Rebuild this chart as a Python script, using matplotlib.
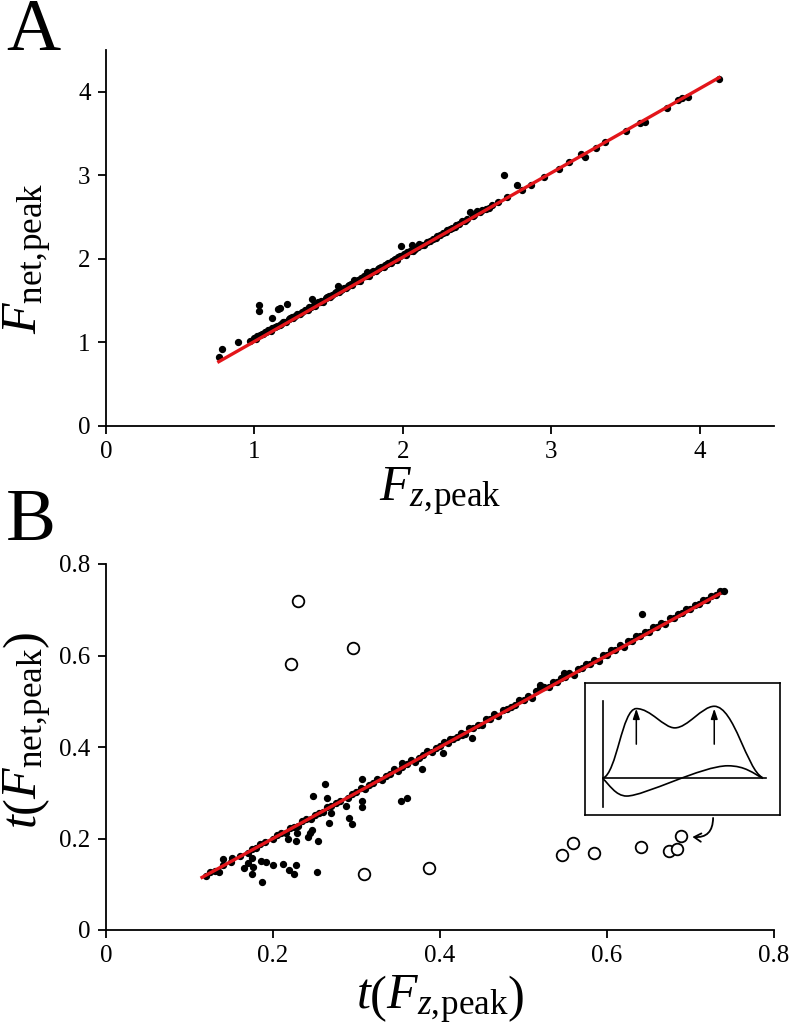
import numpy as np
import matplotlib
matplotlib.use('Agg')
import matplotlib.pyplot as plt
from matplotlib.path import Path
from matplotlib.patches import PathPatch

plt.rcParams['font.family'] = ['Liberation Serif', 'DejaVu Serif']
plt.rcParams['mathtext.fontset'] = 'custom'
plt.rcParams['mathtext.rm'] = 'Liberation Serif'
plt.rcParams['mathtext.it'] = 'Liberation Serif:italic'

# panel A: peak forces
fz_peak = [0.76, 0.78, 0.89, 0.97, 1.00, 1.02, 1.03, 1.03, 1.05, 1.07,
           1.08, 1.10, 1.12, 1.12, 1.15, 1.16, 1.17, 1.18, 1.20, 1.22,
           1.23, 1.25, 1.27, 1.30, 1.32, 1.35, 1.37, 1.39, 1.40, 1.43,
           1.45, 1.48, 1.50, 1.52, 1.55, 1.56, 1.58, 1.60, 1.63, 1.65,
           1.67, 1.70, 1.72, 1.75, 1.76, 1.78, 1.80, 1.83, 1.85, 1.88,
           1.90, 1.93, 1.95, 1.97, 1.99, 2.01, 2.03, 2.06, 2.08, 2.11,
           2.13, 2.16, 2.20, 2.23, 2.27, 2.30, 2.33, 2.36, 2.40, 2.43,
           2.45, 2.48, 2.50, 2.53, 2.56, 2.60, 2.64, 2.68, 2.70, 2.77,
           2.80, 2.86, 2.95, 3.05, 3.12, 3.20, 3.23, 3.30, 3.36, 3.50,
           3.60, 3.63, 3.78, 3.85, 3.88, 3.92, 4.13]
fnet_peak = [0.83, 0.92, 1.01, 1.02, 1.05, 1.08, 1.45, 1.38, 1.10, 1.12,
             1.13, 1.15, 1.29, 1.17, 1.20, 1.40, 1.41, 1.22, 1.25, 1.46,
             1.28, 1.30, 1.32, 1.34, 1.37, 1.39, 1.42, 1.52, 1.45, 1.48,
             1.50, 1.53, 1.55, 1.57, 1.60, 1.67, 1.63, 1.65, 1.68, 1.70,
             1.75, 1.75, 1.77, 1.80, 1.84, 1.83, 1.85, 1.88, 1.90, 1.93,
             1.95, 1.98, 2.00, 2.02, 2.15, 2.06, 2.08, 2.17, 2.12, 2.18,
             2.17, 2.20, 2.24, 2.27, 2.31, 2.34, 2.37, 2.40, 2.45, 2.48,
             2.56, 2.53, 2.57, 2.58, 2.60, 2.64, 2.68, 3.00, 2.74, 2.89,
             2.83, 2.88, 2.98, 3.08, 3.16, 3.25, 3.22, 3.33, 3.40, 3.53,
             3.63, 3.64, 3.81, 3.90, 3.92, 3.94, 4.15]
# second layer of the dense band just above the fit line
fz_band = [1.01, 1.04, 1.06, 1.09, 1.11, 1.14, 1.17, 1.19, 1.21, 1.24,
           1.26, 1.29, 1.31, 1.34, 1.36, 1.38, 1.41, 1.44, 1.46, 1.49,
           1.51, 1.54, 1.57, 1.59, 1.62, 1.64, 1.66, 1.69, 1.71, 1.74,
           1.77, 1.79, 1.82, 1.84, 1.87, 1.89, 1.92, 1.94, 1.96, 1.98,
           2.02, 2.05, 2.07, 2.10, 2.14, 2.18, 2.22, 2.25, 2.29, 2.32,
           2.35, 2.38, 2.42, 2.47, 2.52, 2.58]
fnet_band = [1.04, 1.09, 1.10, 1.15, 1.14, 1.19, 1.21, 1.24, 1.24, 1.29,
             1.29, 1.34, 1.34, 1.39, 1.39, 1.43, 1.44, 1.49, 1.49, 1.54,
             1.54, 1.59, 1.60, 1.64, 1.65, 1.69, 1.69, 1.74, 1.74, 1.79,
             1.80, 1.84, 1.85, 1.89, 1.90, 1.94, 1.95, 1.99, 1.99, 2.03,
             2.05, 2.10, 2.10, 2.14, 2.17, 2.22, 2.25, 2.29, 2.32, 2.36,
             2.38, 2.42, 2.45, 2.51, 2.56, 2.61]
fit_a_x = [0.76, 4.13]
fit_a_y = [0.77, 4.17]

# panel B: timing of peaks, points close to the identity line
tz_band = [0.12, 0.125, 0.13, 0.14, 0.15, 0.16, 0.17, 0.175, 0.18, 0.185,
           0.19, 0.2, 0.205, 0.21, 0.215, 0.22, 0.225, 0.23, 0.235, 0.24,
           0.245, 0.25, 0.255, 0.26, 0.265, 0.27, 0.275, 0.28, 0.29, 0.295,
           0.3, 0.31, 0.315, 0.32, 0.33, 0.335, 0.34, 0.35, 0.355, 0.36,
           0.37, 0.375, 0.38, 0.39, 0.395, 0.4, 0.41, 0.415, 0.42, 0.43,
           0.44, 0.445, 0.45, 0.46, 0.47, 0.48, 0.485, 0.49, 0.5, 0.51,
           0.52, 0.53, 0.54, 0.55, 0.56, 0.57, 0.58, 0.59, 0.6, 0.61,
           0.62, 0.63, 0.64, 0.65, 0.66, 0.67, 0.68, 0.69, 0.7, 0.71,
           0.72, 0.73, 0.74, 0.548, 0.642, 0.52]
tnet_band = [0.118, 0.127, 0.128, 0.142, 0.148, 0.161, 0.168, 0.178, 0.179, 0.188,
             0.192, 0.198, 0.207, 0.212, 0.213, 0.222, 0.226, 0.228, 0.238, 0.242,
             0.243, 0.252, 0.256, 0.258, 0.268, 0.27, 0.277, 0.281, 0.288, 0.297,
             0.302, 0.308, 0.317, 0.321, 0.328, 0.337, 0.342, 0.348, 0.357, 0.362,
             0.368, 0.377, 0.382, 0.388, 0.398, 0.402, 0.408, 0.418, 0.422, 0.428,
             0.442, 0.447, 0.448, 0.462, 0.468, 0.482, 0.487, 0.492, 0.502, 0.508,
             0.528, 0.532, 0.542, 0.552, 0.558, 0.572, 0.582, 0.588, 0.602, 0.612,
             0.618, 0.632, 0.642, 0.652, 0.662, 0.668, 0.682, 0.692, 0.702, 0.712,
             0.722, 0.732, 0.742, 0.562, 0.69, 0.535]
tz_band2 = [0.305, 0.325, 0.345, 0.365, 0.385, 0.405, 0.425, 0.435, 0.455, 0.465,
            0.475, 0.495, 0.505, 0.515, 0.525, 0.535, 0.545, 0.555, 0.565, 0.575,
            0.585, 0.595, 0.605, 0.615, 0.625, 0.635, 0.645, 0.655, 0.665, 0.675,
            0.685, 0.695, 0.705, 0.715, 0.725, 0.735]
tnet_band2 = [0.311, 0.331, 0.352, 0.371, 0.392, 0.411, 0.431, 0.442, 0.461, 0.472,
              0.481, 0.502, 0.511, 0.522, 0.531, 0.542, 0.551, 0.562, 0.571, 0.582,
              0.591, 0.602, 0.611, 0.622, 0.631, 0.642, 0.651, 0.662, 0.671, 0.682,
              0.691, 0.702, 0.711, 0.722, 0.731, 0.742]
# filled points scattered off the line
tz_off = [0.135, 0.1405, 0.1505, 0.1657, 0.1705, 0.175, 0.1756, 0.1744, 0.1864, 0.1856,
          0.1912, 0.1996, 0.2124, 0.2196, 0.2256, 0.2271, 0.218, 0.227, 0.2284, 0.242,
          0.2443, 0.2463, 0.2475, 0.2543, 0.2527, 0.2619, 0.265, 0.2675, 0.269, 0.2874,
          0.2914, 0.2942, 0.3062, 0.3062, 0.3062, 0.3533, 0.3609, 0.3549, 0.3789, 0.404,
          0.4387, 0.412, 0.426]
tnet_off = [0.126, 0.155, 0.157, 0.135, 0.147, 0.122, 0.138, 0.157, 0.106, 0.151,
            0.148, 0.141, 0.144, 0.131, 0.122, 0.141, 0.198, 0.1945, 0.211, 0.203,
            0.211, 0.2186, 0.2936, 0.1945, 0.1275, 0.319, 0.288, 0.2346, 0.255, 0.271,
            0.244, 0.231, 0.33, 0.2827, 0.2696, 0.282, 0.289, 0.364, 0.351, 0.386,
            0.419, 0.4175, 0.426]
# open circles (excluded trials)
tz_open = [0.230, 0.222, 0.296, 0.309, 0.387, 0.546, 0.559, 0.585, 0.641, 0.674, 0.684, 0.689]
tnet_open = [0.719, 0.581, 0.617, 0.122, 0.135, 0.164, 0.190, 0.169, 0.181, 0.173, 0.176, 0.205]
fit_b_x = [0.115, 0.735]
fit_b_y = [0.115, 0.735]

RED = '#e3151a'
W, H = 790, 1031
fig = plt.figure(figsize=(W / 100, H / 100), dpi=100)


def style(ax):
    for s in ['top', 'right']:
        ax.spines[s].set_visible(False)
    for s in ['left', 'bottom']:
        ax.spines[s].set_linewidth(1.3)
    ax.tick_params(direction='out', length=6, width=1.3, labelsize=18, pad=5)


axA = fig.add_axes([106 / W, 1 - 426 / H, 668 / W, 376 / H])
axA.scatter(fz_peak, fnet_peak, s=18, color='black', zorder=2)
axA.scatter(fz_band, fnet_band, s=18, color='black', zorder=2)
axA.plot(fit_a_x, fit_a_y, color=RED, lw=2.4, zorder=3)
axA.set_xlim(0, 4.5)
axA.set_ylim(0, 4.5)
axA.set_xticks([0, 1, 2, 3, 4])
axA.set_yticks([0, 1, 2, 3, 4])
style(axA)

axB = fig.add_axes([106 / W, 1 - 930 / H, 668 / W, 366 / H])
axB.scatter(tz_band, tnet_band, s=18, color='black', zorder=2)
axB.scatter(tz_band2, tnet_band2, s=18, color='black', zorder=2)
axB.scatter(tz_off, tnet_off, s=18, color='black', zorder=2)
axB.scatter(tz_open, tnet_open, s=70, facecolors='white', edgecolors='black',
            linewidths=1.3, zorder=2)
axB.plot(fit_b_x, fit_b_y, color=RED, lw=2.4, zorder=3)
axB.set_xlim(0, 0.8)
axB.set_ylim(0, 0.8)
axB.set_xticks([0, 0.2, 0.4, 0.6, 0.8])
axB.set_yticks([0, 0.2, 0.4, 0.6, 0.8])
axB.set_xticklabels(['0', '0.2', '0.4', '0.6', '0.8'])
axB.set_yticklabels(['0', '0.2', '0.4', '0.6', '0.8'])
style(axB)

# curly arrow from the inset to the open circle
axB.annotate('', xy=(0.699, 0.204), xytext=(0.727, 0.251),
             arrowprops=dict(arrowstyle='->,head_length=0.5,head_width=0.3', lw=1.3,
                             color='black', connectionstyle='arc3,rad=-0.6'))

# labels
fig.text(6 / W, 1 - 50 / H, 'A', fontsize=54, va='baseline', ha='left')
fig.text(6 / W, 1 - 540 / H, 'B', fontsize=54, va='baseline', ha='left')
fig.text(28 / W, 1 - 258 / H, r'$F_{\mathrm{net,\!peak}}$', fontsize=36,
         rotation=90, ha='center', va='center')
fig.text(440 / W, 1 - 492 / H, r'$F_{z,\!\mathrm{peak}}$', fontsize=36,
         ha='center', va='center')
fig.text(28 / W, 1 - 730 / H, r'$t\left(F_{\mathrm{net,\!peak}}\right)$', fontsize=36,
         rotation=90, ha='center', va='center')
fig.text(440 / W, 1 - 1000 / H, r'$t\left(F_{z,\!\mathrm{peak}}\right)$', fontsize=36,
         ha='center', va='center')

# inset schematic of force traces
axI = fig.add_axes([585 / W, 1 - 815 / H, 195 / W, 132 / H])
axI.set_xlim(75, 683)
axI.set_ylim(465, 68)
axI.set_xticks([])
axI.set_yticks([])
for s in axI.spines.values():
    s.set_linewidth(1.2)
axI.plot([130, 130], [122, 440], color='black', lw=1.2)
axI.plot([130, 638], [355, 355], color='black', lw=1.2)
upper_pts = [(130, 355), (175, 340), (190, 145), (235, 145),
             (280, 145), (320, 203), (355, 203),
             (395, 203), (440, 138), (478, 138),
             (540, 138), (580, 330), (628, 352)]
lower_pts = [(130, 355), (150, 372), (170, 408), (205, 408),
             (260, 408), (440, 317), (520, 317),
             (575, 317), (600, 340), (630, 355)]
for pts in (upper_pts, lower_pts):
    codes = [Path.MOVETO] + [Path.CURVE4] * (len(pts) - 1)
    axI.add_patch(PathPatch(Path(pts, codes), fill=False, lw=1.2, edgecolor='black'))
for xa in (235, 478):
    axI.annotate('', xy=(xa, 145), xytext=(xa, 252),
                 arrowprops=dict(arrowstyle='-|>,head_length=0.6,head_width=0.2',
                                 lw=1.1, color='black', shrinkA=0, shrinkB=0))

fig.savefig('out.png', dpi=100)
